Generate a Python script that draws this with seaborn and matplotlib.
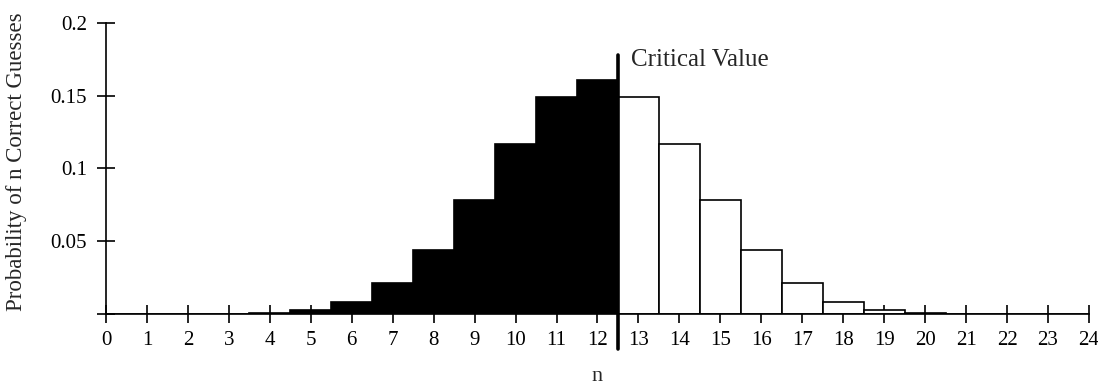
import matplotlib
matplotlib.use("Agg")
import matplotlib.pyplot as plt
import seaborn as sns
import pandas as pd

# probabilities of n correct guesses
n_values = list(range(0, 25))
probs = [0.0, 0.0, 0.0, 0.0, 0.0006, 0.0025, 0.008, 0.021, 0.044, 0.078,
         0.117, 0.149, 0.161, 0.149, 0.117, 0.078, 0.044, 0.021, 0.008,
         0.0025, 0.0006, 0.0, 0.0, 0.0, 0.0]
critical = 12.5
yticks = [0, 0.05, 0.1, 0.15, 0.2]
ytick_labels = ["", "0.05", "0.1", "0.15", "0.2"]

df = pd.DataFrame({"n": n_values, "p": probs})
df["region"] = ["below" if n < critical else "above" for n in n_values]

sns.set_style("white")
plt.rcParams["font.family"] = ["Liberation Serif", "DejaVu Serif"]

fig = plt.figure(figsize=(10.98, 3.85), dpi=100)
ax = fig.add_axes([0.0965, 0.1844, 0.8953, 0.7566])

sns.barplot(data=df, x="n", y="p", hue="region",
            palette={"below": "black", "above": "white"},
            edgecolor="black", linewidth=1.2, width=1.0, dodge=False,
            legend=False, ax=ax)

ax.set_xlim(0, 24)
ax.set_ylim(0, 0.2)
ax.set_xticks(n_values)
ax.set_xticklabels([str(n) for n in n_values])
ax.set_yticks(yticks)
ax.set_yticklabels(ytick_labels)

for side in ["top", "right"]:
    ax.spines[side].set_visible(False)
for side in ["left", "bottom"]:
    ax.spines[side].set_linewidth(1.2)
    ax.spines[side].set_color("black")

ax.tick_params(axis="both", direction="inout", length=13, width=1.2,
               colors="black", labelsize=15, bottom=True, left=True)
ax.tick_params(axis="x", pad=6)
ax.tick_params(axis="y", pad=7)

ax.plot([critical, critical], [-0.024, 0.1775], color="black", lw=2.6,
        clip_on=False, solid_capstyle="round", zorder=5)
ax.text(critical + 0.33, 0.1745, "Critical Value", fontsize=18,
        ha="left", va="center")

ax.set_xlabel("n", fontsize=16, labelpad=12)
ax.set_ylabel("Probability of n Correct Guesses", fontsize=16.5)
ax.yaxis.set_label_coords(-0.08, 0.522)

fig.savefig("out.png", dpi=100)
